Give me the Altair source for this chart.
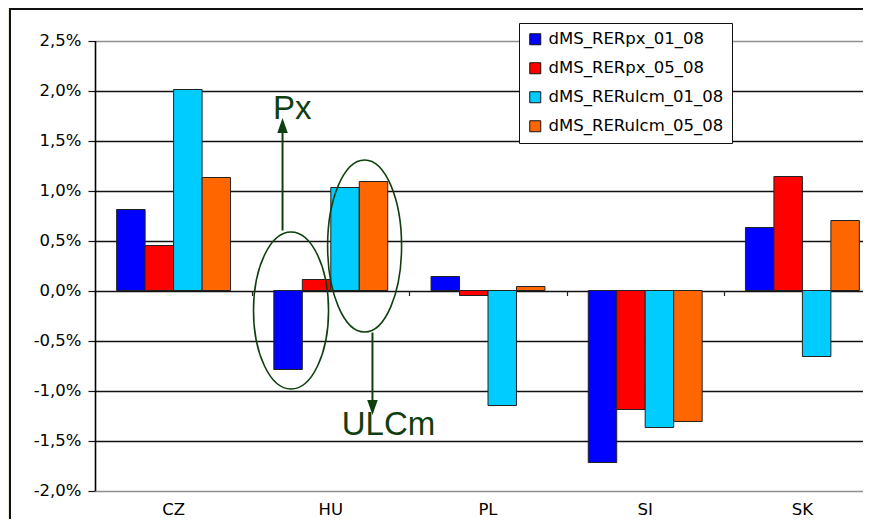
import altair as alt
import pandas as pd

# ---------------- data ----------------
countries = ["CZ", "HU", "PL", "SI", "SK"]
series = ["dMS_RERpx_01_08", "dMS_RERpx_05_08", "dMS_RERulcm_01_08", "dMS_RERulcm_05_08"]
colors = ["#0000FF", "#FF0000", "#00CCFF", "#FF6600"]

v_px_01 = [0.81, -0.79, 0.14, -1.72, 0.63]
v_px_05 = [0.45, 0.11, -0.05, -1.19, 1.14]
v_ulcm_01 = [2.01, 1.03, -1.15, -1.37, -0.66]
v_ulcm_05 = [1.13, 1.09, 0.04, -1.31, 0.70]

y_ticks = [-2.0, -1.5, -1.0, -0.5, 0.0, 0.5, 1.0, 1.5, 2.0, 2.5]

# annotations (in data units, attached to the HU category)
ann_country = "HU"
ann_texts = ["Px", "ULCm"]
ann_text_y = [1.715, -1.445]
arrow_start_y = [0.60, -0.42]
arrow_end_y = [1.60, -1.12]
arrow_head_y = [1.65, -1.17]
ellipse_y = [-0.20, 0.445]

# ---------------- layout / style ----------------
SVG_W, SVG_H = 855, 511
W, H = 880, 523
PAD_L, PAD_T = 2, 1
X0, X1 = 85, 871
Y_TOP, Y_BOT = 31.5, 481.5
ZERO_Y = Y_BOT - (0 - y_ticks[0]) / (y_ticks[-1] - y_ticks[0]) * (Y_BOT - Y_TOP)
LABEL_Y = 500
GREEN = "#0f3f0f"
FONT = "DejaVu Sans"
BG = "#ECEBDF"

df = pd.DataFrame({
    "country": countries * 4,
    "series": [s for s in series for _ in countries],
    "value": v_px_01 + v_px_05 + v_ulcm_01 + v_ulcm_05,
})

xscale = alt.Scale(domain=countries, range=[X0, X1], paddingInner=0, paddingOuter=0)
xoscale = alt.Scale(domain=series, paddingInner=0, paddingOuter=0.76)
yscale = alt.Scale(domain=[y_ticks[0], y_ticks[-1]], range=[Y_BOT, Y_TOP], nice=False)

label_expr = ("(datum.value < 0 ? '-' : '') + floor(abs(datum.value) + 0.001) + ',' "
              "+ (round(abs(datum.value) * 10) % 10) + '%'")

y_axis = alt.Axis(
    orient="left", offset=-X0, values=y_ticks, labelExpr=label_expr, title=None,
    domainColor="#000", domainWidth=1.6, tickColor="#111", tickSize=7, tickWidth=1.2,
    labelPadding=7, labelFont=FONT, labelFontSize=16.5, labelColor="black",
    grid=True, gridWidth=1.6,
    gridColor=alt.condition("datum.value == -2 || datum.value == 2.5",
                            alt.value("#8f8f8f"), alt.value("#111111")),
)

label_axis = alt.Axis(
    orient="top", offset=-LABEL_Y, ticks=False, tickSize=0, domain=False, grid=False,
    labelBaseline="middle", labelPadding=0, labelAngle=0, labelFont=FONT,
    labelFontSize=16.5, labelColor="black", title=None,
)

tick_axis = alt.Axis(
    orient="bottom", offset=ZERO_Y - H, labels=False, domain=False, grid=False,
    ticks=True, tickBand="extent", tickSize=5, tickColor="#222", tickWidth=1.2, title=None,
)

legend = alt.Legend(
    orient="none", legendX=509, legendY=14, title=None, fillColor="white",
    strokeColor="#111", padding=8, rowPadding=12, symbolType="square", symbolSize=121,
    symbolStrokeColor="#111", symbolStrokeWidth=1, symbolOpacity=1, labelLimit=0,
    labelFont=FONT, labelFontSize=16.5, labelColor="black", labelOffset=5,
)

def ypos(field="y"):
    return alt.Y(f"{field}:Q", scale=yscale, axis=y_axis)

bars = alt.Chart(df).mark_bar(stroke="#222", strokeWidth=1, opacity=1).encode(
    x=alt.X("country:N", scale=xscale, sort=countries, axis=label_axis),
    xOffset=alt.XOffset("series:N", scale=xoscale, sort=series),
    y=ypos("value"),
    color=alt.Color("series:N", scale=alt.Scale(domain=series, range=colors), legend=legend),
)

ELL1 = "M0,-1A0.478,1,0,1,1,0,1A0.478,1,0,1,1,0,-1Z"
ELL2 = "M0,-1A0.430,1,0,1,1,0,1A0.430,1,0,1,1,0,-1Z"
TRI_UP = "M0,-1L0.7,1L-0.7,1Z"
TRI_DOWN = "M0,1L0.7,-1L-0.7,-1Z"

def ann_df(**cols):
    d = {"country": [ann_country]}
    d.update({k: [v] for k, v in cols.items()})
    return pd.DataFrame(d)

def xpos(band, axis=None):
    return alt.X("country:N", scale=xscale, sort=countries, bandPosition=band, axis=axis)

ell1 = alt.Chart(ann_df(y=ellipse_y[0])).mark_point(
    shape=ELL1, size=24649, filled=False, color=GREEN, strokeWidth=1.6, opacity=1
).encode(x=xpos(0.247, tick_axis), y=ypos())

ell2 = alt.Chart(ann_df(y=ellipse_y[1])).mark_point(
    shape=ELL2, size=29584, filled=False, color=GREEN, strokeWidth=1.6, opacity=1
).encode(x=xpos(0.715), y=ypos())

arrow1 = alt.Chart(ann_df(y=arrow_start_y[0], y2=arrow_end_y[0])).mark_rule(
    color=GREEN, strokeWidth=2
).encode(x=xpos(0.193), y=ypos(), y2="y2:Q")

arrow2 = alt.Chart(ann_df(y=arrow_start_y[1], y2=arrow_end_y[1])).mark_rule(
    color=GREEN, strokeWidth=2
).encode(x=xpos(0.765), y=ypos(), y2="y2:Q")

head1 = alt.Chart(ann_df(y=arrow_head_y[0])).mark_point(
    shape=TRI_UP, size=225, filled=True, color=GREEN, opacity=1
).encode(x=xpos(0.193), y=ypos())

head2 = alt.Chart(ann_df(y=arrow_head_y[1])).mark_point(
    shape=TRI_DOWN, size=225, filled=True, color=GREEN, opacity=1
).encode(x=xpos(0.765), y=ypos())

txt1 = alt.Chart(ann_df(y=ann_text_y[0], t=ann_texts[0])).mark_text(
    font="Liberation Sans", fontSize=33, color=GREEN, align="center", baseline="alphabetic"
).encode(x=xpos(0.254), y=ypos(), text="t:N")

txt2 = alt.Chart(ann_df(y=ann_text_y[1], t=ann_texts[1])).mark_text(
    font="Liberation Sans", fontSize=33, color=GREEN, align="center", baseline="alphabetic"
).encode(x=xpos(0.867), y=ypos(), text="t:N")

chart = alt.layer(bars, ell1, ell2, arrow1, arrow2, head1, head2, txt1, txt2).properties(
    width=W, height=H,
    padding={"left": PAD_L, "top": PAD_T,
             "right": SVG_W - W - PAD_L, "bottom": SVG_H - H - PAD_T},
    autosize=alt.AutoSizeParams(type="none"),
    background=BG,
).configure_view(fill="white", stroke="#111", strokeWidth=2)

chart.save("out.html", embed_options={"renderer": "svg", "actions": False})
